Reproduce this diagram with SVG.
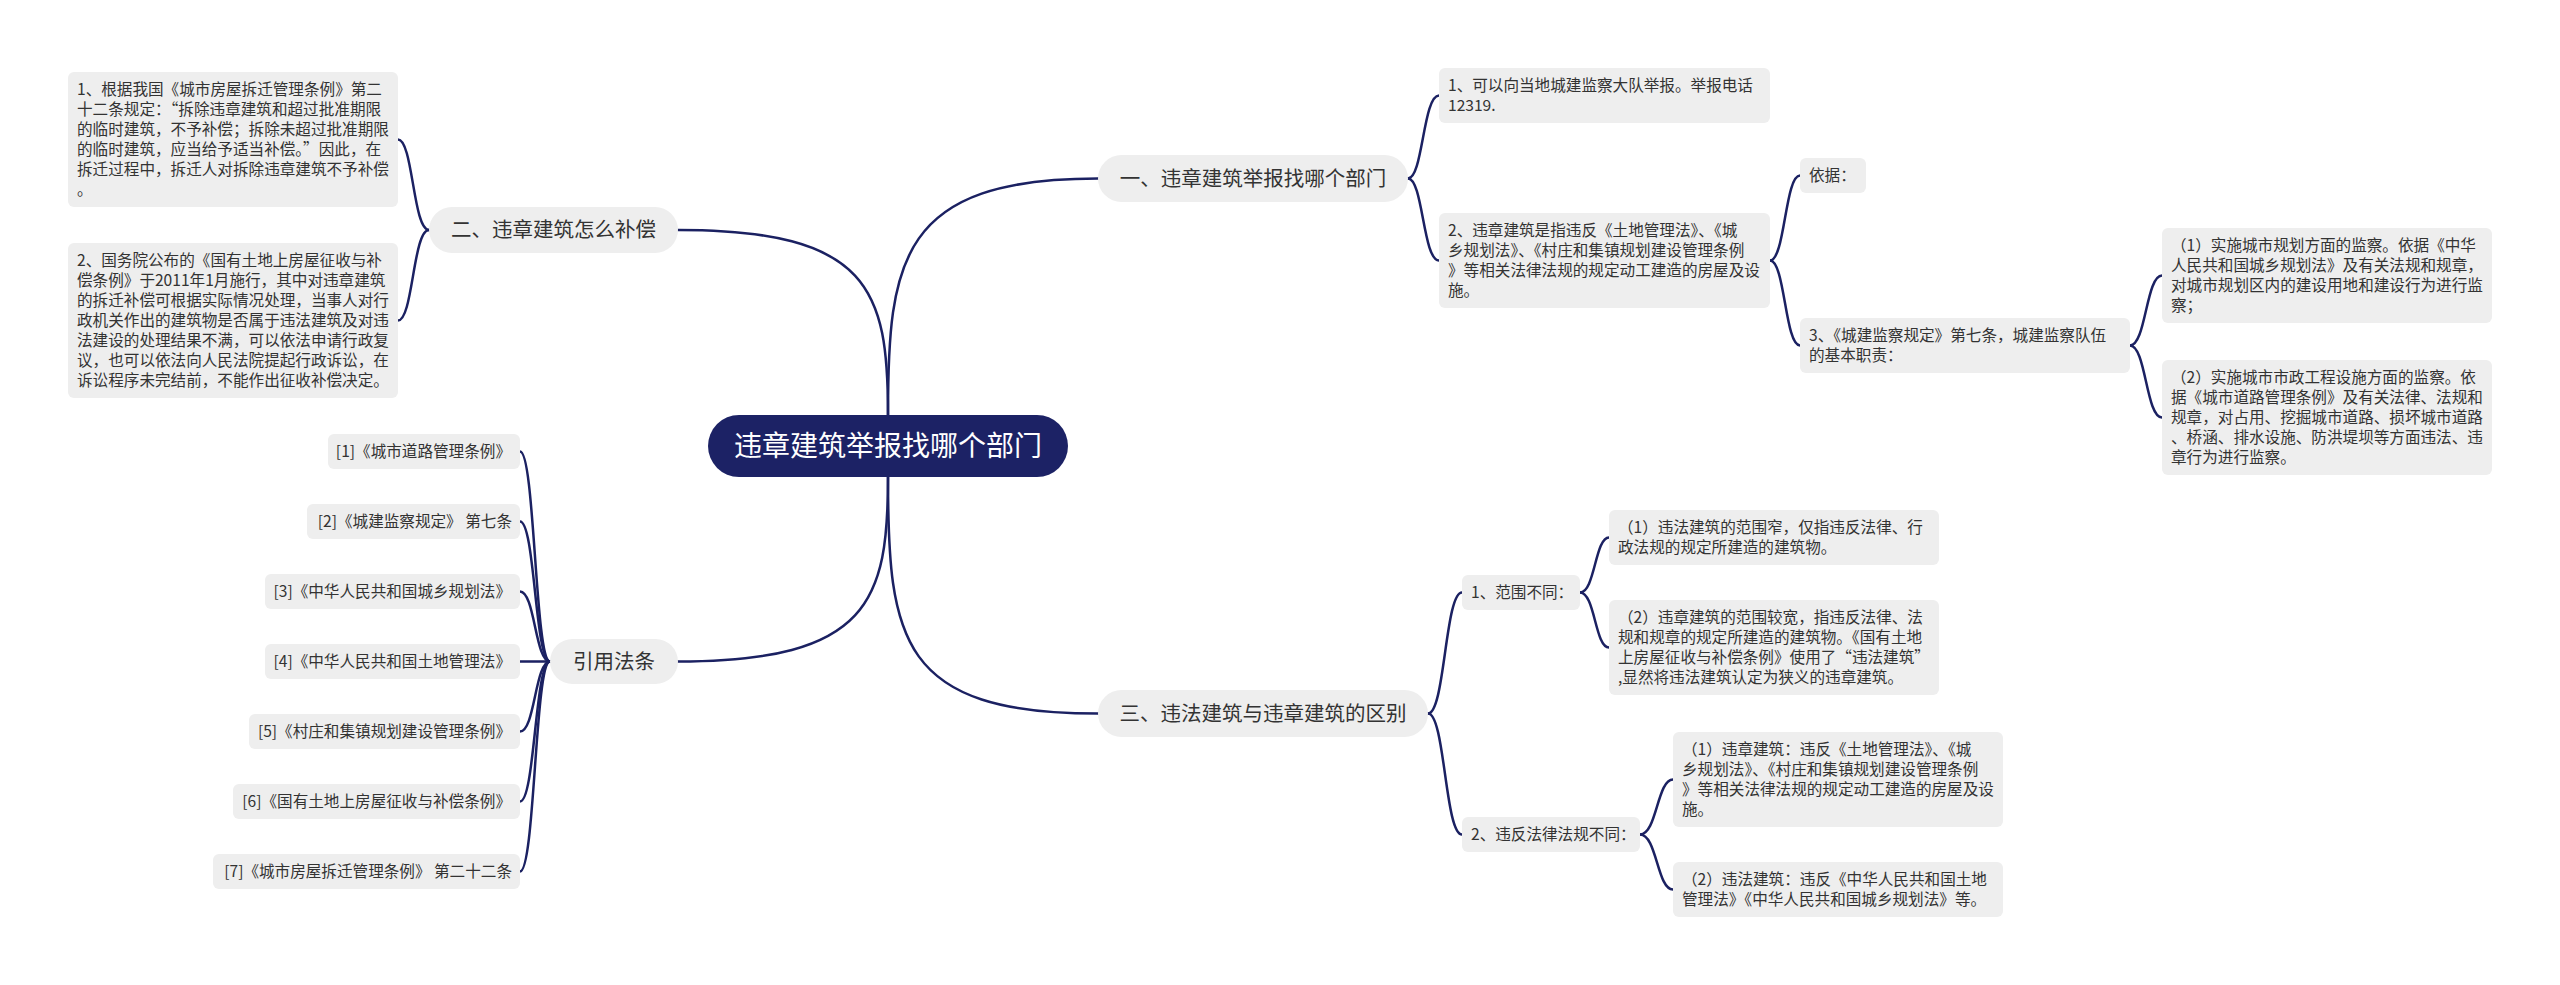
<svg xmlns="http://www.w3.org/2000/svg" width="2560" height="985" viewBox="0 0 2560 985">
<style>
.bg{fill:#ffffff}
.box{fill:#eeeeee}
.t{font-family:"Noto Sans CJK SC","Noto Sans",sans-serif;font-size:15.6px;fill:#333333}
.b{font-family:"Noto Sans CJK SC","Noto Sans",sans-serif;font-size:20.5px;fill:#333333;text-anchor:middle}
.m{font-family:"Noto Sans CJK SC","Noto Sans",sans-serif;font-size:28px;fill:#ffffff;text-anchor:middle}
.e{text-anchor:end}
.c{fill:none;stroke:#1b2162;stroke-width:2.5;stroke-linecap:round}
</style>
<rect class="bg" x="0" y="0" width="2560" height="985"/>
<g id="connectors">
<path class="c" d="M888,415 C888,260 900,178.5 1098,178.5"/>
<path class="c" d="M888,415 C888,290 870,230 678,230"/>
<path class="c" d="M888,477 C888,640 900,713.5 1098,713.5"/>
<path class="c" d="M888,477 C888,600 870,661.5 678,661.5"/>
<path class="c" d="M429,230 C413,230 413,139.5 398,139.5"/>
<path class="c" d="M429,230 C413,230 413,320.5 398,320.5"/>
<path class="c" d="M550,661.5 C535,661.5 535,451.5 520,451.5"/>
<path class="c" d="M550,661.5 C535,661.5 535,521.5 520,521.5"/>
<path class="c" d="M550,661.5 C535,661.5 535,591.5 520,591.5"/>
<path class="c" d="M550,661.5 L520,661.5"/>
<path class="c" d="M550,661.5 C535,661.5 535,731.5 520,731.5"/>
<path class="c" d="M550,661.5 C535,661.5 535,801.5 520,801.5"/>
<path class="c" d="M550,661.5 C535,661.5 535,871.5 520,871.5"/>
<path class="c" d="M1408,178.5 C1423,178.5 1423,95.5 1439,95.5"/>
<path class="c" d="M1408,178.5 C1423,178.5 1423,260.5 1439,260.5"/>
<path class="c" d="M1770,260.5 C1785,260.5 1785,175.5 1800,175.5"/>
<path class="c" d="M1770,260.5 C1785,260.5 1785,345.5 1800,345.5"/>
<path class="c" d="M2130,345.5 C2146,345.5 2146,275.5 2162,275.5"/>
<path class="c" d="M2130,345.5 C2146,345.5 2146,417.5 2162,417.5"/>
<path class="c" d="M1428,713.5 C1445,713.5 1445,592.5 1462,592.5"/>
<path class="c" d="M1428,713.5 C1445,713.5 1445,834.5 1462,834.5"/>
<path class="c" d="M1580,592.5 C1595,592.5 1595,537.5 1609,537.5"/>
<path class="c" d="M1580,592.5 C1595,592.5 1595,647.5 1609,647.5"/>
<path class="c" d="M1640,834.5 C1657,834.5 1657,779.5 1673,779.5"/>
<path class="c" d="M1640,834.5 C1657,834.5 1657,889.5 1673,889.5"/>
</g>
<g id="root">
<rect x="708" y="415" width="360" height="62" rx="31" fill="#1c2265"/>
<text class="m" x="888" y="456">违章建筑举报找哪个部门</text>
</g>
<g id="b1">
<rect class="box" x="1098" y="155" width="310" height="47" rx="23.5"/>
<text class="b" x="1253" y="185.5">一、违章建筑举报找哪个部门</text>
</g>
<g id="b2">
<rect class="box" x="429" y="207" width="249" height="46" rx="23"/>
<text class="b" x="553.5" y="237">二、违章建筑怎么补偿</text>
</g>
<g id="b3">
<rect class="box" x="1098" y="690" width="330" height="47" rx="23.5"/>
<text class="b" x="1263" y="720.5">三、违法建筑与违章建筑的区别</text>
</g>
<g id="b4">
<rect class="box" x="550" y="639" width="128" height="45" rx="22.5"/>
<text class="b" x="614" y="668.5">引用法条</text>
</g>
<g id="l1">
<rect class="box" x="68" y="72" width="330" height="135" rx="6"/>
<text class="t" x="77" y="95">1、根据我国《城市房屋拆迁管理条例》第二</text>
<text class="t" x="77" y="115">十二条规定：“拆除违章建筑和超过批准期限</text>
<text class="t" x="77" y="135">的临时建筑，不予补偿；拆除未超过批准期限</text>
<text class="t" x="77" y="155">的临时建筑，应当给予适当补偿。”因此，在</text>
<text class="t" x="77" y="175">拆迁过程中，拆迁人对拆除违章建筑不予补偿</text>
<text class="t" x="77" y="195">。</text>
</g>
<g id="l2">
<rect class="box" x="68" y="243" width="330" height="155" rx="6"/>
<text class="t" x="77" y="266">2、国务院公布的《国有土地上房屋征收与补</text>
<text class="t" x="77" y="286">偿条例》于2011年1月施行，其中对违章建筑</text>
<text class="t" x="77" y="306">的拆迁补偿可根据实际情况处理，当事人对行</text>
<text class="t" x="77" y="326">政机关作出的建筑物是否属于违法建筑及对违</text>
<text class="t" x="77" y="346">法建设的处理结果不满，可以依法申请行政复</text>
<text class="t" x="77" y="366">议，也可以依法向人民法院提起行政诉讼，在</text>
<text class="t" x="77" y="386">诉讼程序未完结前，不能作出征收补偿决定。</text>
</g>
<g id="cite1">
<rect class="box" x="328" y="434" width="192" height="35" rx="6"/>
<text class="t e" x="511" y="457">[1]《城市道路管理条例》</text>
</g>
<g id="cite2">
<rect class="box" x="307" y="504" width="213" height="35" rx="6"/>
<text class="t e" x="512" y="527">[2]《城建监察规定》 第七条</text>
</g>
<g id="cite3">
<rect class="box" x="265" y="574" width="255" height="35" rx="6"/>
<text class="t e" x="511" y="597">[3]《中华人民共和国城乡规划法》</text>
</g>
<g id="cite4">
<rect class="box" x="265" y="644" width="255" height="35" rx="6"/>
<text class="t e" x="511" y="667">[4]《中华人民共和国土地管理法》</text>
</g>
<g id="cite5">
<rect class="box" x="249" y="714" width="271" height="35" rx="6"/>
<text class="t e" x="511" y="737">[5]《村庄和集镇规划建设管理条例》</text>
</g>
<g id="cite6">
<rect class="box" x="233" y="784" width="287" height="35" rx="6"/>
<text class="t e" x="511" y="807">[6]《国有土地上房屋征收与补偿条例》</text>
</g>
<g id="cite7">
<rect class="box" x="213" y="854" width="307" height="35" rx="6"/>
<text class="t e" x="512" y="877">[7]《城市房屋拆迁管理条例》 第二十二条</text>
</g>
<g id="r1">
<rect class="box" x="1439" y="68" width="331" height="55" rx="6"/>
<text class="t" x="1448" y="91">1、可以向当地城建监察大队举报。举报电话</text>
<text class="t" x="1448" y="111">12319.</text>
</g>
<g id="r2">
<rect class="box" x="1439" y="213" width="331" height="95" rx="6"/>
<text class="t" x="1448" y="236">2、违章建筑是指违反《土地管理法》、《城</text>
<text class="t" x="1448" y="256">乡规划法》、《村庄和集镇规划建设管理条例</text>
<text class="t" x="1448" y="276">》等相关法律法规的规定动工建造的房屋及设</text>
<text class="t" x="1448" y="296">施。</text>
</g>
<g id="r2a">
<rect class="box" x="1800" y="158" width="66" height="35" rx="6"/>
<text class="t" x="1809" y="181">依据：</text>
</g>
<g id="r2b">
<rect class="box" x="1800" y="318" width="330" height="55" rx="6"/>
<text class="t" x="1809" y="341">3、《城建监察规定》第七条，城建监察队伍</text>
<text class="t" x="1809" y="361">的基本职责：</text>
</g>
<g id="r2b1">
<rect class="box" x="2162" y="228" width="330" height="95" rx="6"/>
<text class="t" x="2171" y="251">（1）实施城市规划方面的监察。依据《中华</text>
<text class="t" x="2171" y="271">人民共和国城乡规划法》及有关法规和规章，</text>
<text class="t" x="2171" y="291">对城市规划区内的建设用地和建设行为进行监</text>
<text class="t" x="2171" y="311">察；</text>
</g>
<g id="r2b2">
<rect class="box" x="2162" y="360" width="330" height="115" rx="6"/>
<text class="t" x="2171" y="383">（2）实施城市市政工程设施方面的监察。依</text>
<text class="t" x="2171" y="403">据《城市道路管理条例》及有关法律、法规和</text>
<text class="t" x="2171" y="423">规章，对占用、挖掘城市道路、损坏城市道路</text>
<text class="t" x="2171" y="443">、桥涵、排水设施、防洪堤坝等方面违法、违</text>
<text class="t" x="2171" y="463">章行为进行监察。</text>
</g>
<g id="d1">
<rect class="box" x="1462" y="575" width="118" height="35" rx="6"/>
<text class="t" x="1471" y="598">1、范围不同：</text>
</g>
<g id="d1a">
<rect class="box" x="1609" y="510" width="330" height="55" rx="6"/>
<text class="t" x="1618" y="533">（1）违法建筑的范围窄，仅指违反法律、行</text>
<text class="t" x="1618" y="553">政法规的规定所建造的建筑物。</text>
</g>
<g id="d1b">
<rect class="box" x="1609" y="600" width="330" height="95" rx="6"/>
<text class="t" x="1618" y="623">（2）违章建筑的范围较宽，指违反法律、法</text>
<text class="t" x="1618" y="643">规和规章的规定所建造的建筑物。《国有土地</text>
<text class="t" x="1618" y="663">上房屋征收与补偿条例》使用了“违法建筑”</text>
<text class="t" x="1618" y="683">,显然将违法建筑认定为狭义的违章建筑。</text>
</g>
<g id="d2">
<rect class="box" x="1462" y="817" width="178" height="35" rx="6"/>
<text class="t" x="1471" y="840">2、违反法律法规不同：</text>
</g>
<g id="d2a">
<rect class="box" x="1673" y="732" width="330" height="95" rx="6"/>
<text class="t" x="1682" y="755">（1）违章建筑：违反《土地管理法》、《城</text>
<text class="t" x="1682" y="775">乡规划法》、《村庄和集镇规划建设管理条例</text>
<text class="t" x="1682" y="795">》等相关法律法规的规定动工建造的房屋及设</text>
<text class="t" x="1682" y="815">施。</text>
</g>
<g id="d2b">
<rect class="box" x="1673" y="862" width="330" height="55" rx="6"/>
<text class="t" x="1682" y="885">（2）违法建筑：违反《中华人民共和国土地</text>
<text class="t" x="1682" y="905">管理法》《中华人民共和国城乡规划法》等。</text>
</g>
</svg>
